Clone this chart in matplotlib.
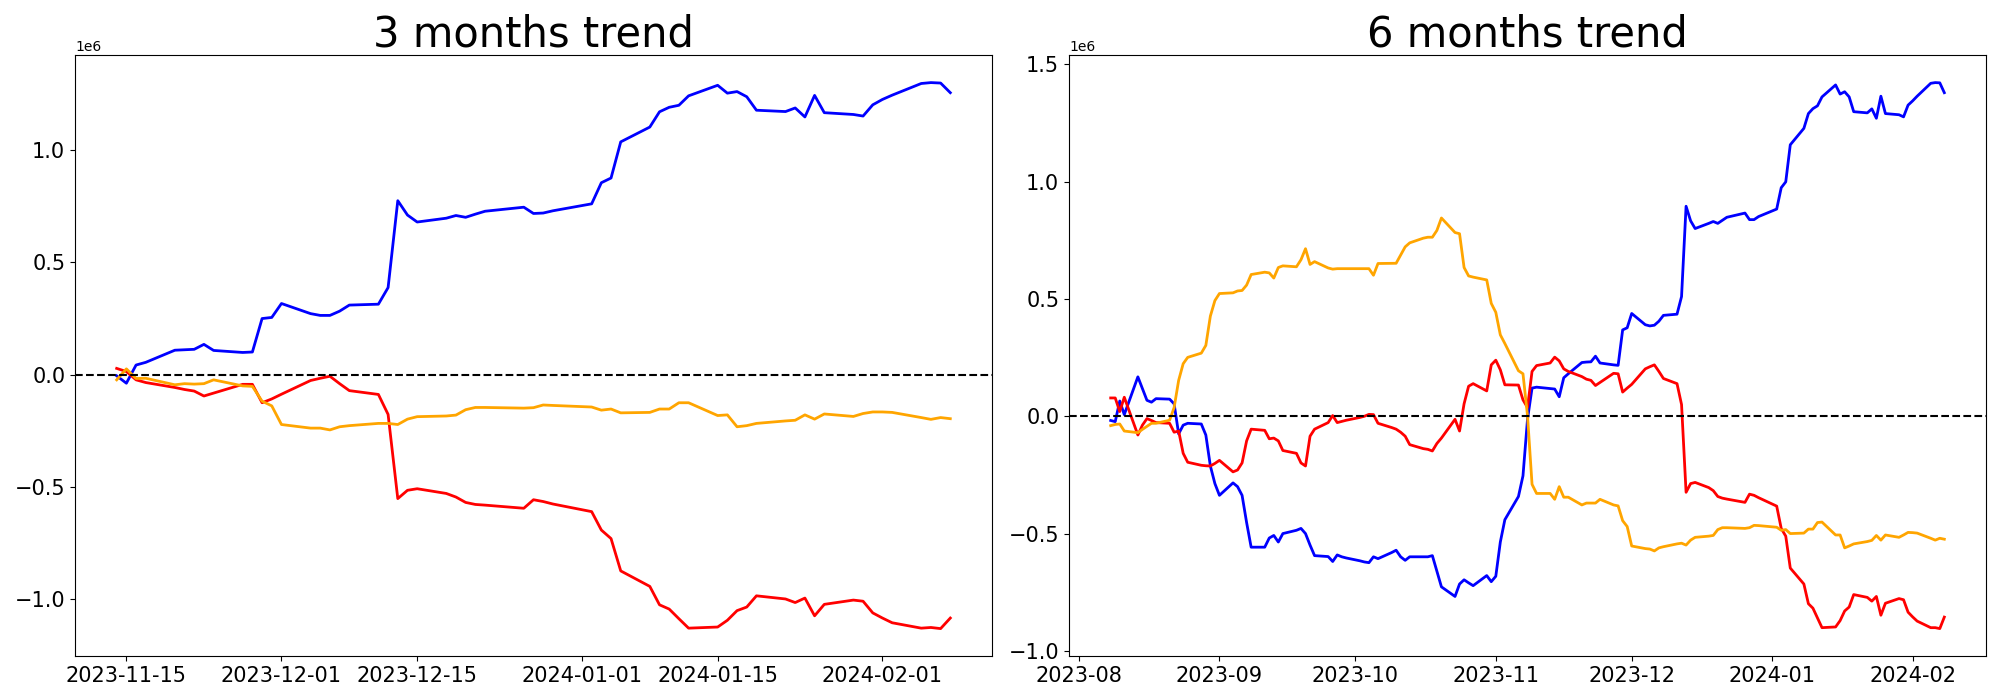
import numpy as np
import pandas as pd
import matplotlib
matplotlib.use("Agg")
import matplotlib.pyplot as plt

# ---------------- data (values in millions) ----------------
holidays = ["2023-12-25", "2024-01-01"]
left_dates = pd.bdate_range("2023-11-14", "2024-02-08", freq="C", holidays=holidays)
right_dates = pd.bdate_range("2023-08-08", "2024-02-08", freq="C", holidays=holidays)

left_blue = [
    -0.005, -0.038, 0.043, 0.055,
    0.109, 0.111, 0.113, 0.135, 0.108,
    0.099, 0.101, 0.250, 0.255, 0.317,
    0.272, 0.264, 0.264, 0.283, 0.310,
    0.314, 0.388, 0.775, 0.711, 0.680,
    0.697, 0.709, 0.701, 0.715, 0.728,
    0.746, 0.718, 0.720, 0.730,
    0.761, 0.855, 0.876, 1.037,
    1.103, 1.171, 1.191, 1.200, 1.242,
    1.289, 1.254, 1.261, 1.238, 1.178,
    1.172, 1.188, 1.148, 1.244, 1.167,
    1.159, 1.152, 1.202, 1.226, 1.245,
    1.297, 1.301, 1.299, 1.256,
]
left_orange = [
    -0.023, 0.026, -0.017, -0.016,
    -0.045, -0.040, -0.042, -0.040, -0.023,
    -0.050, -0.052, -0.118, -0.139, -0.222,
    -0.238, -0.238, -0.246, -0.232, -0.227,
    -0.217, -0.217, -0.222, -0.198, -0.187,
    -0.184, -0.180, -0.156, -0.146, -0.146,
    -0.149, -0.147, -0.135, -0.137,
    -0.144, -0.158, -0.153, -0.170,
    -0.168, -0.153, -0.153, -0.125, -0.125,
    -0.182, -0.179, -0.232, -0.227, -0.217,
    -0.206, -0.203, -0.179, -0.198, -0.175,
    -0.186, -0.173, -0.166, -0.166, -0.168,
    -0.191, -0.199, -0.191, -0.196,
]
left_red = [
    0.028, 0.014, -0.023, -0.035,
    -0.057, -0.066, -0.073, -0.095, -0.082,
    -0.043, -0.043, -0.125, -0.108, -0.087,
    -0.026, -0.016, -0.007, -0.040, -0.071,
    -0.088, -0.177, -0.552, -0.515, -0.508,
    -0.529, -0.545, -0.569, -0.578, -0.581,
    -0.595, -0.557, -0.565, -0.576,
    -0.610, -0.692, -0.730, -0.874,
    -0.943, -1.025, -1.044, -1.087, -1.129,
    -1.124, -1.094, -1.051, -1.035, -0.985,
    -0.999, -1.015, -0.995, -1.074, -1.023,
    -1.004, -1.009, -1.061, -1.084, -1.105,
    -1.129, -1.126, -1.131, -1.084,
]

right_blue = [
    -0.018, -0.023, 0.065, 0.007,
    0.168, 0.118, 0.068, 0.060, 0.075,
    0.073, 0.053, -0.075, -0.038, -0.030,
    -0.033, -0.080, -0.212, -0.287, -0.337,
    -0.284, -0.300, -0.337, -0.453, -0.558,
    -0.558, -0.519, -0.508, -0.536, -0.500,
    -0.486, -0.478, -0.500, -0.549, -0.594,
    -0.598, -0.619, -0.591, -0.599, -0.604,
    -0.616, -0.621, -0.624, -0.599, -0.607,
    -0.581, -0.571, -0.599, -0.614, -0.599,
    -0.599, -0.599, -0.594, -0.661, -0.727,
    -0.768, -0.715, -0.697, -0.710, -0.722,
    -0.679, -0.705, -0.682, -0.536, -0.441,
    -0.342, -0.254, -0.013, 0.120, 0.124,
    0.118, 0.116, 0.083, 0.164, 0.181,
    0.229, 0.231, 0.232, 0.256, 0.227,
    0.219, 0.217, 0.368, 0.377, 0.438,
    0.390, 0.385, 0.388, 0.405, 0.430,
    0.435, 0.510, 0.895, 0.833, 0.800,
    0.822, 0.830, 0.822, 0.835, 0.848,
    0.866, 0.838, 0.838, 0.851,
    0.883, 0.974, 0.999, 1.157,
    1.227, 1.290, 1.311, 1.323, 1.361,
    1.412, 1.373, 1.383, 1.361, 1.298,
    1.293, 1.310, 1.270, 1.364, 1.290,
    1.285, 1.276, 1.326, 1.344, 1.364,
    1.419, 1.422, 1.421, 1.379,
]
right_orange = [
    -0.040, -0.035, -0.033, -0.063,
    -0.070, -0.056, -0.043, -0.030, -0.030,
    -0.017, 0.037, 0.153, 0.224, 0.251,
    0.269, 0.302, 0.427, 0.493, 0.523,
    0.526, 0.534, 0.536, 0.559, 0.604,
    0.614, 0.611, 0.589, 0.634, 0.641,
    0.637, 0.667, 0.714, 0.647, 0.659,
    0.632, 0.627, 0.629, 0.629, 0.629,
    0.629, 0.629, 0.629, 0.601, 0.651,
    0.652, 0.652, 0.687, 0.722, 0.739,
    0.759, 0.763, 0.763, 0.792, 0.845,
    0.783, 0.778, 0.634, 0.598, 0.593,
    0.581, 0.481, 0.443, 0.347, 0.310,
    0.194, 0.181, 0.003, -0.290, -0.329,
    -0.329, -0.354, -0.300, -0.345, -0.345,
    -0.378, -0.370, -0.370, -0.370, -0.354,
    -0.378, -0.382, -0.445, -0.470, -0.553,
    -0.564, -0.566, -0.574, -0.561, -0.556,
    -0.544, -0.541, -0.549, -0.528, -0.516,
    -0.511, -0.508, -0.483, -0.475, -0.475,
    -0.478, -0.475, -0.465, -0.466,
    -0.473, -0.486, -0.483, -0.500,
    -0.498, -0.481, -0.481, -0.453, -0.451,
    -0.506, -0.506, -0.561, -0.553, -0.544,
    -0.534, -0.529, -0.508, -0.528, -0.506,
    -0.516, -0.506, -0.495, -0.496, -0.498,
    -0.520, -0.528, -0.520, -0.524,
]
right_red = [
    0.078, 0.078, 0.020, 0.081,
    -0.080, -0.038, -0.010, -0.018, -0.027,
    -0.030, -0.068, -0.063, -0.158, -0.196,
    -0.209, -0.211, -0.212, -0.201, -0.188,
    -0.237, -0.229, -0.199, -0.105, -0.055,
    -0.060, -0.096, -0.093, -0.105, -0.146,
    -0.158, -0.199, -0.212, -0.085, -0.055,
    -0.027, 0.003, -0.027, -0.022, -0.017,
    -0.005, 0.000, 0.008, 0.007, -0.030,
    -0.048, -0.055, -0.068, -0.085, -0.121,
    -0.138, -0.141, -0.148, -0.116, -0.093,
    -0.013, -0.063, 0.053, 0.128, 0.139,
    0.108, 0.219, 0.239, 0.198, 0.134,
    0.133, 0.070, 0.037, 0.191, 0.216,
    0.227, 0.252, 0.236, 0.202, 0.191,
    0.169, 0.158, 0.153, 0.131, 0.144,
    0.183, 0.181, 0.103, 0.120, 0.136,
    0.202, 0.211, 0.219, 0.191, 0.161,
    0.139, 0.050, -0.324, -0.287, -0.282,
    -0.304, -0.317, -0.342, -0.349, -0.353,
    -0.367, -0.332, -0.337, -0.347,
    -0.383, -0.478, -0.511, -0.647,
    -0.715, -0.799, -0.818, -0.860, -0.901,
    -0.898, -0.871, -0.830, -0.813, -0.760,
    -0.772, -0.788, -0.768, -0.848, -0.797,
    -0.777, -0.782, -0.835, -0.855, -0.873,
    -0.901, -0.901, -0.905, -0.856,
]

titles = ["3 months trend", "6 months trend"]
UNIT = 1e6

# ---------------- plot ----------------
fig, axes = plt.subplots(1, 2, figsize=(20, 7), dpi=100)
panels = [
    (left_dates, left_blue, left_orange, left_red),
    (right_dates, right_blue, right_orange, right_red),
]
for ax, (dates, b, o, r), title in zip(axes, panels, titles):
    ax.plot(dates, np.array(b) * UNIT, color="blue", lw=2)
    ax.plot(dates, np.array(r) * UNIT, color="red", lw=2)
    ax.plot(dates, np.array(o) * UNIT, color="orange", lw=2)
    ax.axhline(0, color="black", linestyle="--", lw=1.5)
    ax.set_title(title, fontsize=30)
    ax.tick_params(labelsize=15)

fig.subplots_adjust(left=0.0375, right=0.993, bottom=0.063, top=0.921, wspace=0.084)
fig.savefig("out.png")
